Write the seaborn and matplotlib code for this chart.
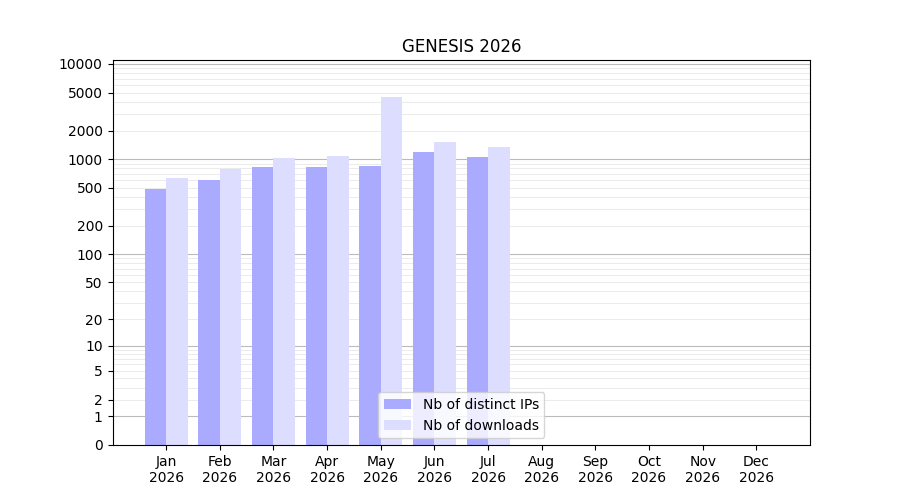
import numpy as np
import pandas as pd
import matplotlib
matplotlib.use("Agg")
import matplotlib.pyplot as plt
import seaborn as sns

months = ["Jan\n2026","Feb\n2026","Mar\n2026","Apr\n2026","May\n2026","Jun\n2026",
          "Jul\n2026","Aug\n2026","Sep\n2026","Oct\n2026","Nov\n2026","Dec\n2026"]
ips = [480, 600, 820, 820, 850, 1200, 1050, np.nan, np.nan, np.nan, np.nan, np.nan]
downloads = [640, 780, 1020, 1080, 4500, 1500, 1350, np.nan, np.nan, np.nan, np.nan, np.nan]
yticks = [0, 1, 2, 5, 10, 20, 50, 100, 200, 500, 1000, 2000, 5000, 10000]

df = pd.DataFrame({
    "month": months * 2,
    "value": ips + downloads,
    "series": ["Nb of distinct IPs"] * 12 + ["Nb of downloads"] * 12,
})

fig, ax = plt.subplots(figsize=(9, 5), dpi=100)
sns.barplot(data=df, x="month", y="value", hue="series", order=months,
            palette=["#aaaaff", "#ddddff"], saturation=1, ax=ax, width=0.8)
f = lambda v: np.log10(np.clip(v, 0, None) + 1)
g = lambda v: 10 ** v - 1
ax.set_yscale("function", functions=(f, g))
ax.set_ylim(0, 11000)
ax.set_xlim(-1, 12)
ax.set_yticks(yticks)
ax.set_yticklabels([str(t) for t in yticks])
for d in [1, 10, 100, 1000, 10000]:
    ax.axhline(d, color="#bbbbbb", lw=0.8, zorder=0)
    for k in range(2, 10):
        if d * k < 11000:
            ax.axhline(d * k, color="#e8e8e8", lw=0.6, zorder=0)
ax.set_xlabel("")
ax.set_ylabel("")
ax.set_title("GENESIS 2026")
ax.legend(loc="lower center", title=None)
fig.savefig("out.png", dpi=100)
